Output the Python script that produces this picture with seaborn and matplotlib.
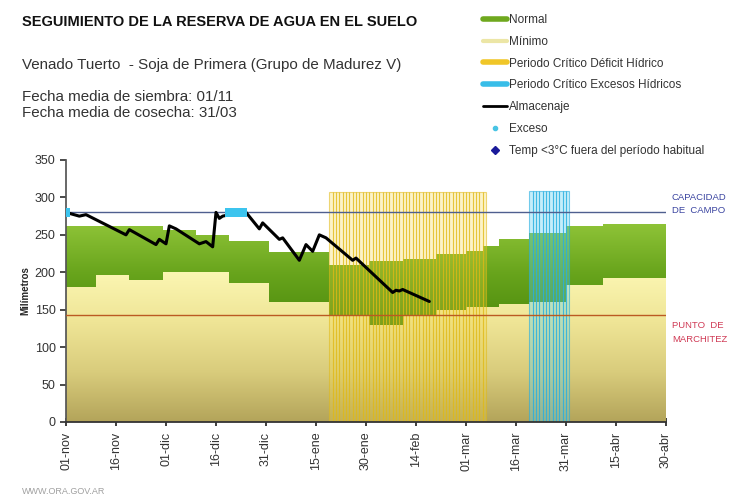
import numpy as np
import pandas as pd
import matplotlib
matplotlib.use('Agg')
import matplotlib.pyplot as plt
import seaborn as sns
from matplotlib.colors import LinearSegmentedColormap
from matplotlib.patches import PathPatch
from matplotlib.lines import Line2D

# days counted from 01-nov
tick_days = [0, 15, 30, 45, 60, 75, 90, 105, 120, 135, 150, 165, 180]
tick_labels = ['01-nov', '16-nov', '01-dic', '16-dic', '31-dic', '15-ene', '30-ene',
               '14-feb', '01-mar', '16-mar', '31-mar', '15-abr', '30-abr']

# stepped band limits (value holds from this day to the next one)
band_days = [0, 9, 19, 29, 39, 49, 61, 79, 91, 101, 111, 120, 125, 130, 139, 150, 161, 180]
minimo = [180, 196, 190, 200, 200, 186, 160, 142, 129, 143, 150, 154, 154, 158, 160, 183, 192, 192]
normal_max = [262, 262, 262, 256, 250, 242, 227, 210, 215, 218, 224, 229, 235, 245, 253, 262, 264, 264]

# soil water storage
alm_days = [0, 4, 6, 18, 19, 27, 28, 30, 31, 33, 40, 42, 44, 45, 46, 47, 48, 49, 54, 58, 59,
            64, 65, 70, 72, 74, 76, 78, 86, 87, 98, 99, 100, 101, 109]
alm_vals = [280, 275, 277, 250, 257, 237, 244, 238, 262, 258, 238, 241, 234, 280, 272, 275,
            276, 280, 280, 258, 266, 244, 246, 216, 237, 228, 250, 246, 216, 219, 173, 176,
            175, 177, 161]

exceso_days = [0, 49, 50, 51, 52, 53]
exceso_vals = [280, 280, 280, 280, 280, 280]

# critical periods (first day, last day, bar height)
deficit_period = (79, 125, 307)
excesos_period = (139, 150, 308)

capacidad_campo = 280
punto_marchitez = 143

sns.set_theme(style='white')
plt.rcParams['font.family'] = ['Liberation Sans', 'DejaVu Sans']

fig = plt.figure(figsize=(7.32, 5.0), dpi=100)
ax = fig.add_axes([66 / 732, 78 / 500, 600 / 732, 262 / 500])


def gradient_fill(ax, x, lo, hi, colors, vmin, vmax):
    poly = ax.fill_between(x, lo, hi, step='post', facecolor='none', edgecolor='none')
    patch = PathPatch(poly.get_paths()[0], transform=ax.transData,
                      facecolor='none', edgecolor='none')
    ax.add_patch(patch)
    cmap = LinearSegmentedColormap.from_list('g', colors)
    grad = np.linspace(0, 1, 256).reshape(-1, 1)
    im = ax.imshow(grad, extent=[0, 180, vmin, vmax], origin='lower', aspect='auto',
                   cmap=cmap, zorder=1, interpolation='bilinear')
    im.set_clip_path(patch)


gradient_fill(ax, band_days, 0, minimo, ['#b3a45a', '#d9cc7c', '#efe596', '#fbf6b2'], 0, 200)
gradient_fill(ax, band_days, minimo, normal_max, ['#4c8a0c', '#68a41c', '#92c63a'], 125, 270)

# critical period bars, one per day
d0, d1, h = deficit_period
ddays = np.arange(d0, d1 + 1)
ax.bar(ddays, [h] * len(ddays), width=1, align='edge',
       color=(0.96, 0.84, 0.25, 0.28), edgecolor=(0.88, 0.72, 0.08, 0.55), linewidth=0.8, zorder=2)
e0, e1, h2 = excesos_period
edays = np.arange(e0, e1 + 1)
ax.bar(edays, [h2] * len(edays), width=1, align='edge',
       color=(0.35, 0.82, 0.95, 0.35), edgecolor=(0.15, 0.68, 0.88, 0.6), linewidth=0.8, zorder=2)

ax.axhline(capacidad_campo, color='#4f5f8f', lw=1.0, zorder=3)
ax.axhline(punto_marchitez, color='#bb5a22', lw=1.0, zorder=3)

df = pd.DataFrame({'dia': alm_days, 'mm': alm_vals})
sns.lineplot(data=df, x='dia', y='mm', color='black', lw=2.2, ax=ax, zorder=4)
dfe = pd.DataFrame({'dia': exceso_days, 'mm': exceso_vals})
sns.scatterplot(data=dfe, x='dia', y='mm', color='#3cc4ee', marker='s', s=40,
                edgecolor='none', ax=ax, zorder=5)

ax.set_xlim(0, 180)
ax.set_ylim(0, 350)
ax.set_xticks(tick_days)
ax.set_xticklabels(tick_labels, rotation=90, fontsize=9, color='#333333')
ax.set_yticks(range(0, 351, 50))
ax.tick_params(axis='y', labelsize=9, colors='#333333', direction='out', length=4, left=True)
ax.tick_params(axis='x', direction='inout', length=6, bottom=True, pad=4)
ax.set_xlabel('')
ax.set_ylabel('Milímetros', fontsize=7, fontweight='bold', labelpad=3)
for s in ['top', 'right']:
    ax.spines[s].set_visible(False)
ax.spines['left'].set_color('#555555')
ax.spines['bottom'].set_color('#333333')
ax.spines['bottom'].set_linewidth(1.3)

# header texts
fig.text(22 / 732, 1 - 22 / 500, 'SEGUIMIENTO DE LA RESERVA DE AGUA EN EL SUELO',
         fontsize=10.5, fontweight='bold', va='center', color='#111111')
fig.text(22 / 732, 1 - 65 / 500, 'Venado Tuerto  - Soja de Primera (Grupo de Madurez V)',
         fontsize=10.9, va='center', color='#333333')
fig.text(22 / 732, 1 - 97 / 500, 'Fecha media de siembra: 01/11',
         fontsize=10.9, va='center', color='#333333')
fig.text(22 / 732, 1 - 113 / 500, 'Fecha media de cosecha: 31/03',
         fontsize=10.9, va='center', color='#333333')
fig.text(22 / 732, 1 - 492 / 500, 'WWW.ORA.GOV.AR', fontsize=6.5, va='center', color='#a0a0a0')

fig.text(672 / 732, 1 - 197 / 500, 'CAPACIDAD', fontsize=6.8, va='center', color='#3a44a0')
fig.text(672 / 732, 1 - 211 / 500, 'DE  CAMPO', fontsize=6.8, va='center', color='#3a44a0')
fig.text(672 / 732, 1 - 325 / 500, 'PUNTO  DE', fontsize=6.8, va='center', color='#d03a55')
fig.text(672 / 732, 1 - 339 / 500, 'MARCHITEZ', fontsize=6.8, va='center', color='#d03a55')

handles = [
    Line2D([], [], color='#6fa81e', lw=4),
    Line2D([], [], color='#ece6a6', lw=3),
    Line2D([], [], color='#f0c628', lw=4),
    Line2D([], [], color='#38bde8', lw=4),
    Line2D([], [], color='black', lw=2),
    Line2D([], [], color='#48c4e4', marker='o', markersize=3, lw=0),
    Line2D([], [], color='#1a1a9a', marker='D', markersize=4, lw=0),
]
labels = ['Normal', 'Mínimo', 'Periodo Crítico Déficit Hídrico', 'Periodo Crítico Excesos Hídricos',
          'Almacenaje', 'Exceso', 'Temp <3°C fuera del período habitual']
leg = fig.legend(handles, labels, loc='upper left', bbox_to_anchor=(483 / 732, 1 - 14 / 500),
                 frameon=False, fontsize=8.5, handlelength=2.0, handletextpad=0.2,
                 labelspacing=0.83, borderpad=0, borderaxespad=0)
for t in leg.get_texts():
    t.set_color('#333333')

fig.savefig('out.png', dpi=100)
